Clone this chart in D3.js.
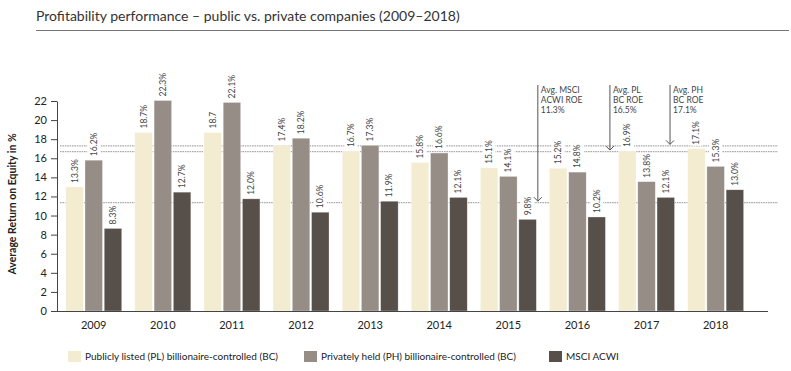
<!DOCTYPE html>
<html>
<head>
<meta charset="utf-8">
<script src="https://cdn.jsdelivr.net/npm/d3@7"></script>
<style>
  body { margin: 0; background: #fff; }
  text { font-family: Lato, "Open Sans", sans-serif; fill: #333; }
</style>
</head>
<body>
<script>
// Chart data
var years = ["2009", "2010", "2011", "2012", "2013", "2014", "2015", "2016", "2017", "2018"];
var seriesNames = [
  "Publicly listed (PL) billionaire-controlled (BC)",
  "Privately held (PH) billionaire-controlled (BC)",
  "MSCI ACWI"
];
// bar heights as drawn
var plHeights   = [13.0, 18.7, 18.7, 17.35, 16.75, 15.55, 15.0, 14.95, 16.75, 17.0];
var phHeights   = [15.8, 22.05, 21.85, 18.1, 17.35, 16.55, 14.1, 14.55, 13.55, 15.15];
var msciHeights = [8.65, 12.45, 11.75, 10.35, 11.5, 11.9, 9.6, 9.85, 11.9, 12.7];
// value labels as printed
var plLabels   = ["13.3%", "18.7%", "18.7", "17.4%", "16.7%", "15.8%", "15.1%", "15.2%", "16.9%", "17.1%"];
var phLabels   = ["16.2%", "22.3%", "22.1%", "18.2%", "17.3%", "16.6%", "14.1%", "14.8%", "13.8%", "15.3%"];
var msciLabels = ["8.3%", "12.7%", "12.0%", "10.6%", "11.9%", "12.1%", "9.8%", "10.2%", "12.1%", "13.0%"];
var yTicks = [0, 2, 4, 6, 8, 10, 12, 14, 16, 18, 20, 22];
// average lines (as drawn) and their notes
var avgLevels = [11.35, 16.7, 17.3];
var avgNotes = [
  ["Avg. MSCI", "ACWI ROE", "11.3%"],
  ["Avg. PL", "BC ROE", "16.5%"],
  ["Avg. PH", "BC ROE", "17.1%"]
];
var avgAfterYear = ["2015", "2016", "2017"];

var colors = ["#f3ecd1", "#968d87", "#574f4a"];

var width = 791,
    height = 371;

var svg = d3.select("body").append("svg")
    .attr("width", width)
    .attr("height", height);

var x0 = d3.scaleBand()
    .domain(years)
    .range([59.2, 750.2])
    .paddingInner(0.19)
    .paddingOuter(0.095);

var x1 = d3.scaleBand()
    .domain([0, 1, 2])
    .range([0, x0.bandwidth()])
    .paddingInner(0.09);

var y = d3.scaleLinear()
    .domain([0, 22])
    .range([311, 101]);

// title
svg.append("text")
    .attr("x", 36)
    .attr("y", 21)
    .style("font-size", "14px")
    .text("Profitability performance \u2013 public vs. private companies (2009\u20132018)");

svg.append("line")
    .attr("x1", 36).attr("x2", 789)
    .attr("y1", 30.5).attr("y2", 30.5)
    .attr("stroke", "#777")
    .attr("stroke-width", 1);

// dotted average lines
svg.append("g")
    .selectAll("line")
    .data(avgLevels)
    .enter().append("line")
    .attr("x1", 60)
    .attr("x2", 778)
    .attr("y1", function(d) { return y(d); })
    .attr("y2", function(d) { return y(d); })
    .attr("stroke", "#aaa")
    .attr("stroke-width", 1.4)
    .attr("stroke-dasharray", "1.6,0.8");

// bars
var rows = years.map(function(yr, i) {
  return {
    year: yr,
    vals: [plHeights[i], phHeights[i], msciHeights[i]],
    labels: [plLabels[i], phLabels[i], msciLabels[i]]
  };
});

var groups = svg.append("g")
    .selectAll("g")
    .data(rows)
    .enter().append("g")
    .attr("transform", function(d) { return "translate(" + x0(d.year) + ",0)"; });

groups.selectAll("rect")
    .data(function(d) { return d.vals.map(function(v, k) { return { k: k, v: v }; }); })
    .enter().append("rect")
    .attr("x", function(d) { return x1(d.k); })
    .attr("width", x1.bandwidth())
    .attr("y", function(d) { return y(d.v); })
    .attr("height", function(d) { return y(0) - y(d.v); })
    .attr("fill", function(d) { return colors[d.k]; })
    .attr("stroke", "#fff")
    .attr("stroke-opacity", 0.5)
    .attr("stroke-width", 0.6);

// value labels with white backing
var labs = groups.selectAll("g.lab")
    .data(function(d) { return d.vals.map(function(v, k) { return { k: k, v: v, t: d.labels[k] }; }); })
    .enter().append("g")
    .attr("class", "lab")
    .attr("transform", function(d) {
      return "translate(" + (x1(d.k) + x1.bandwidth() / 2) + "," + (y(d.v) - 4) + ") rotate(-90)";
    });

labs.append("rect")
    .attr("fill", "#fff");

labs.append("text")
    .attr("dy", "0.35em")
    .style("font-size", "8.5px")
    .style("fill", "#444")
    .text(function(d) { return d.t; });

labs.each(function() {
  var g = d3.select(this);
  var w = g.select("text").node().getComputedTextLength();
  g.select("rect")
    .attr("x", -1)
    .attr("y", -6.5)
    .attr("width", w + 2)
    .attr("height", 13);
});

// y axis
var yAxis = svg.append("g")
    .attr("transform", "translate(57,0)")
    .call(d3.axisLeft(y).tickValues(yTicks).tickSize(6).tickSizeOuter(0).tickPadding(4));

yAxis.select(".domain").attr("stroke", "#444");
yAxis.selectAll(".tick line").attr("stroke", "#444");
yAxis.selectAll(".tick text")
    .style("font-family", "Lato, sans-serif")
    .style("font-size", "11px")
    .style("fill", "#222");

svg.append("text")
    .attr("transform", "translate(16,204) rotate(-90)")
    .attr("text-anchor", "middle")
    .style("font-size", "10.5px")
    .style("font-weight", "bold")
    .style("fill", "#222")
    .text("Average Return on Equity in %");

// x axis
svg.append("line")
    .attr("x1", 57).attr("x2", 768)
    .attr("y1", y(0) + 0.5).attr("y2", y(0) + 0.5)
    .attr("stroke", "#444");

svg.append("g")
    .selectAll("text")
    .data(years)
    .enter().append("text")
    .attr("x", function(d) { return x0(d) + x0.bandwidth() / 2; })
    .attr("y", 325)
    .attr("dy", "0.35em")
    .attr("text-anchor", "middle")
    .style("font-size", "11px")
    .style("fill", "#222")
    .text(function(d) { return d; });

// arrows to average lines
var arrowOffsets = [1.5, 4.5, -4.5];
var notes = svg.append("g")
    .selectAll("g")
    .data(avgLevels)
    .enter().append("g")
    .attr("transform", function(d, i) {
      return "translate(" + (x0(avgAfterYear[i]) + x0.bandwidth() + arrowOffsets[i]) + ",0)";
    });

notes.append("line")
    .attr("x1", 0).attr("x2", 0)
    .attr("y1", 85)
    .attr("y2", function(d) { return y(d) - 1.5; })
    .attr("stroke", "#555")
    .attr("stroke-width", 1);

notes.append("path")
    .attr("d", function(d) {
      var t = y(d) - 1.5;
      return "M-4," + (t - 4) + "L0," + t + "L4," + (t - 4);
    })
    .attr("fill", "none")
    .attr("stroke", "#555")
    .attr("stroke-width", 1);

notes.selectAll("text")
    .data(function(d, i) { return avgNotes[i]; })
    .enter().append("text")
    .attr("x", 3)
    .attr("y", function(d, j) { return 93 + j * 10; })
    .style("font-size", "8.5px")
    .style("fill", "#444")
    .text(function(d) { return d; });

// legend
var legendX = [68, 304, 549];
var legend = svg.append("g")
    .selectAll("g")
    .data(seriesNames)
    .enter().append("g")
    .attr("transform", function(d, i) { return "translate(" + legendX[i] + ",351)"; });

legend.append("rect")
    .attr("width", 13)
    .attr("height", 11)
    .attr("fill", function(d, i) { return colors[i]; });

legend.append("text")
    .attr("x", 17)
    .attr("y", 5.5)
    .attr("dy", "0.35em")
    .style("font-size", "10px")
    .style("fill", "#222")
    .text(function(d) { return d; });
</script>
</body>
</html>
